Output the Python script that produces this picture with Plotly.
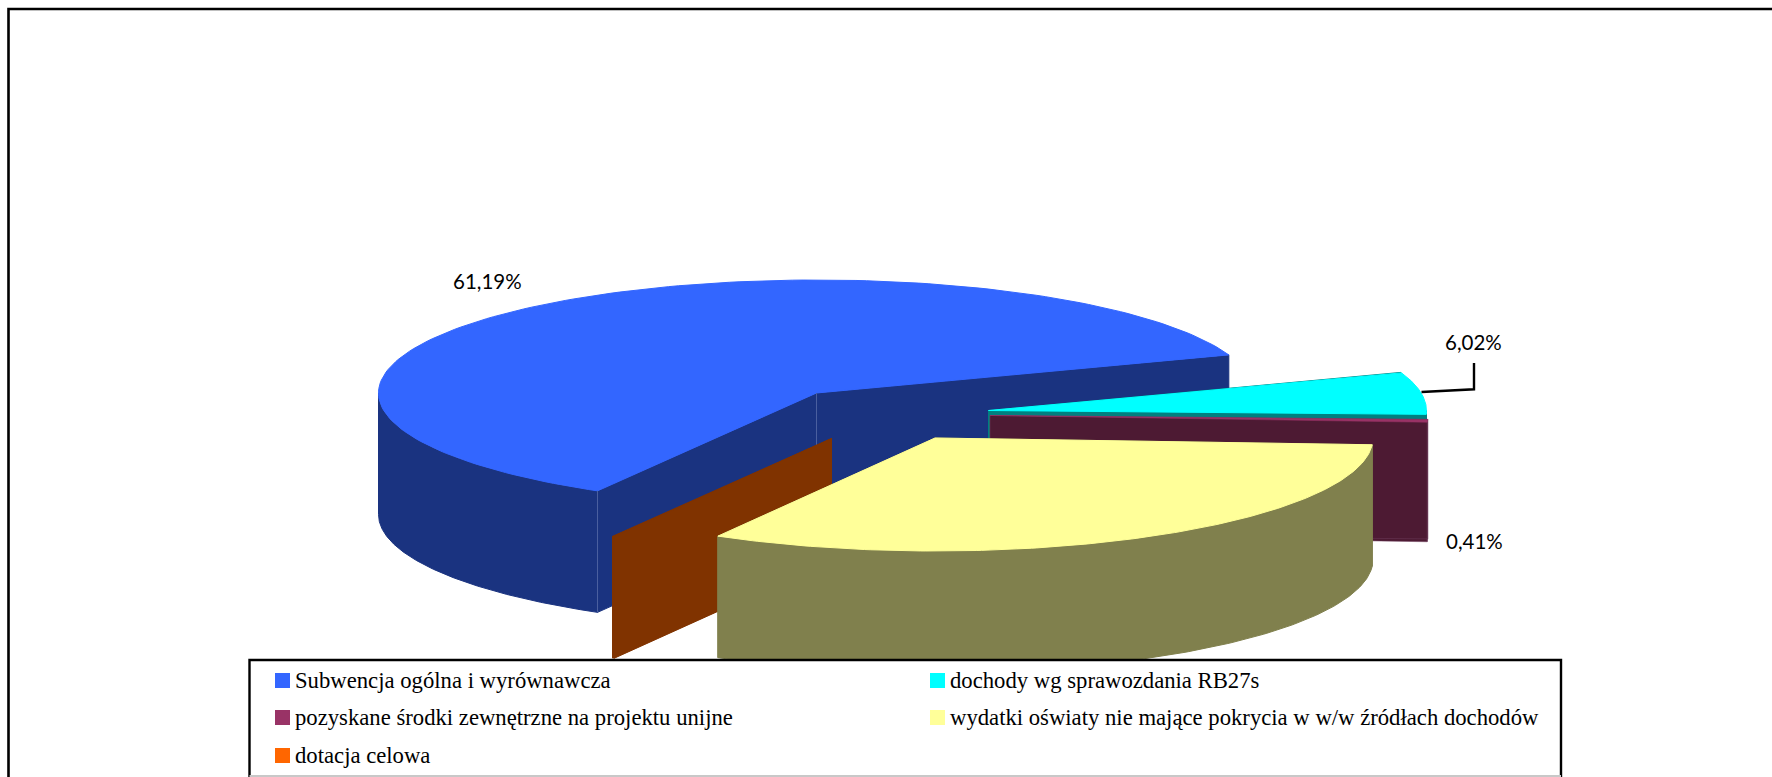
import numpy as np
import plotly.graph_objects as go

# ---- data ----
categories = [
    "Subwencja ogólna i wyrównawcza",
    "dochody wg sprawozdania RB27s",
    "pozyskane środki zewnętrzne na projektu unijne",
    "wydatki oświaty nie mające pokrycia w w/w źródłach dochodów",
    "dotacja celowa",
]
shares = [61.19, 6.02, 0.41, 32.30, 0.08]
shown_labels = ["61,19%", "6,02%", "0,41%", None, None]

# ---- style ----
top_colors = ["#3366FF", "#00FFFF", "#993366", "#FFFF99", "#FF6600"]
side_colors = ["#1A3380", "#008080", "#4D1A33", "#80804D", "#803300"]
edge_colors = ["#1A3380", "#008080", "#6E3F5C", "#80804D", "#803300"]
edge_widths = [1.0, 1.0, 0.5, 1.0, 1.0]

# ---- layout of the projected pie (pixels) ----
W, H = 1772, 777
RX, RY = 438.0, 113.0
depths = [121.5, 121.5, 119.5, 121.5, 121.5]
START_ANGLE = 240.0
apexes = [(816.5, 393), (988.5, 410.5), (990, 415.5), (935, 438), (831.5, 438.5)]
label_pos = [(487, 281), (1473.5, 342), (1474.5, 540.5)]
draw_order = [0, 4, 1, 2, 3]


def arc(apex, a0, a1, drop=0.0, n=160):
    t = np.radians(np.linspace(a0, a1, n))
    return apex[0] + RX * np.cos(t), apex[1] - RY * np.sin(t) + drop


def poly(fig, xs, ys, fill, line=None, width=1.0):
    fig.add_trace(go.Scatter(
        x=np.append(xs, xs[0]), y=np.append(ys, ys[0]), mode="lines", fill="toself",
        fillcolor=fill, line=dict(color=line or fill, width=width),
        hoverinfo="skip", showlegend=False))


def wall(fig, apex, ang, depth, color, line, width):
    ox, oy = arc(apex, ang, ang, n=1)
    poly(fig, np.array([apex[0], ox[0], ox[0], apex[0]]),
         np.array([apex[1], oy[0], oy[0] + depth, apex[1] + depth]), color, line, width)


fig = go.Figure()
angle_edges = START_ANGLE - np.cumsum([0] + shares) * 3.6

for i in draw_order:
    a0, a1 = angle_edges[i], angle_edges[i + 1]
    apex, depth = apexes[i], depths[i]
    side, top, edge, lw = side_colors[i], top_colors[i], edge_colors[i], edge_widths[i]
    # the two cut walls
    wall(fig, apex, a1, depth, side, edge, lw)
    wall(fig, apex, a0, depth, side, edge, lw)
    # the curved front: only the part below the ellipse's equator shows
    if i == 0:
        lo, hi = 180.0, a0
    else:
        lo, hi = a1, min(a0, 0.0)
    if hi > lo:
        x1, y1 = arc(apex, hi, lo)
        x2, y2 = arc(apex, lo, hi, depth)
        poly(fig, np.r_[x1, x2], np.r_[y1, y2], side, edge, lw)
    # top face
    if i != 4:
        ax, ay = arc(apex, a0, a1)
        poly(fig, np.r_[apex[0], ax], np.r_[apex[1], ay], top, None, lw)
    # light seam lines on the big slice's walls
    if i == 0:
        for ang in (None, a0):
            px, py = (apex if ang is None else [v[0] for v in arc(apex, ang, ang, n=1)])
            fig.add_trace(go.Scatter(
                x=[px, px], y=[py, py + depth], mode="lines",
                line=dict(color="#4A5F9F", width=1), hoverinfo="skip", showlegend=False))

# ---- frame, legend box, swatches ----
shapes = [
    dict(type="path", path=f"M 8.5 777 L 8.5 9 L {W} 9", line=dict(color="#000", width=2.6)),
    dict(type="rect", x0=249.5, x1=1561, y0=660, y1=776.5, fillcolor="#FFF",
         line=dict(color="#000", width=2.4), layer="above"),
    dict(type="line", x0=249.5, x1=1561, y0=776, y1=776, line=dict(color="#C8C8C8", width=2)),
    dict(type="path", path="M 1421.5 392 L 1474 389.3 L 1474 363",
         line=dict(color="#000", width=2.4)),
]
col_x = [275, 930]
row_y = [680.5, 717.5, 755.5]
legend_slots = [(0, 0), (1, 0), (0, 1), (1, 1), (0, 2)]
annotations = []
for name, color, (c, r) in zip(categories, top_colors, legend_slots):
    shapes.append(dict(type="rect", x0=col_x[c], x1=col_x[c] + 15, y0=row_y[r] - 7.5, y1=row_y[r] + 7.5,
                       fillcolor=color, line=dict(width=0), layer="above"))
    annotations.append(dict(x=col_x[c] + 17.5, y=row_y[r], text=name, xref="x", yref="y", showarrow=False,
                            xanchor="left", yanchor="middle", align="left",
                            font=dict(family="Liberation Serif", size=22.7, color="#000")))
for text, (x, y) in zip(shown_labels, label_pos):
    annotations.append(dict(x=x, y=y, text=text, xref="x", yref="y", showarrow=False,
                            xanchor="center", yanchor="middle",
                            font=dict(family="Lato", size=20.5, color="#000")))

fig.update_layout(
    width=W, height=H, margin=dict(l=0, r=0, t=0, b=0),
    paper_bgcolor="#FFF", plot_bgcolor="#FFF", showlegend=False,
    xaxis=dict(range=[0, W], visible=False, fixedrange=True),
    yaxis=dict(range=[H, 0], visible=False, fixedrange=True),
    shapes=shapes, annotations=annotations,
)
fig.write_html("out.html", config=dict(displayModeBar=False),
               post_script="document.body.style.margin='0';")
